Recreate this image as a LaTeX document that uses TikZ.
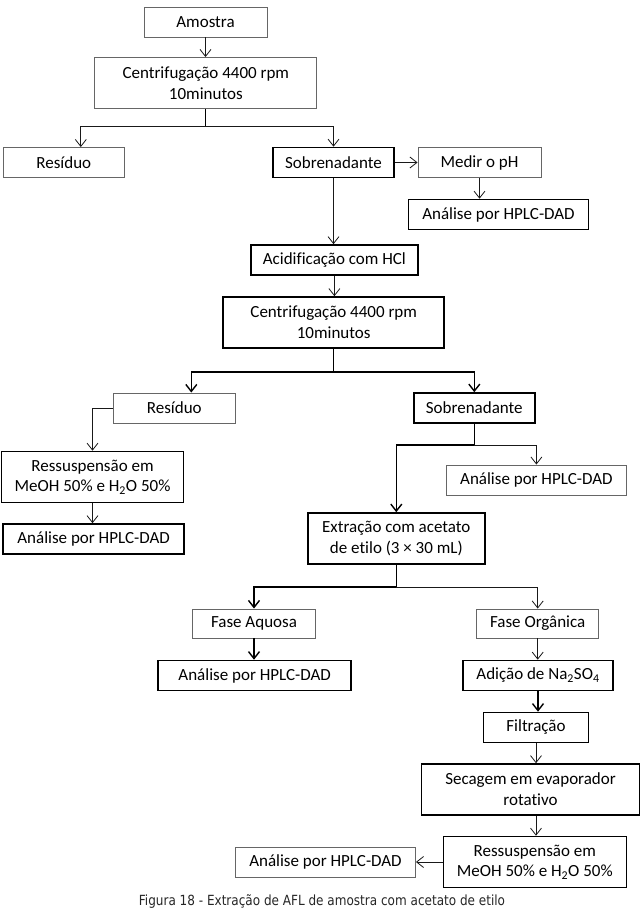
\documentclass[tikz,border=0pt]{standalone}
\usepackage{fontspec}
\setmainfont[Ligatures=NoCommon]{Carlito}
\newfontfamily\legendafont[FakeStretch=0.86]{DejaVu Sans}
\usetikzlibrary{arrows.meta}

\begin{document}
\begin{tikzpicture}[
                x=1pt, y=-1pt,                % 1 unidade = 1 pixel da figura
                every node/.style={
                    font=\fontsize{17}{20.7}\selectfont,
                    align=center,
                    inner sep=2pt
                },
                caixa/.style={draw=black!60, line width=0.9pt, minimum height=30pt},
                caixaforte/.style={draw=black, line width=1.6pt, minimum height=30pt},
                alta/.style={minimum height=51pt},
                >={Straight Barb[length=7pt,width=11pt]},
                arrow/.style={->, line width=0.8pt, black!90},
                barra/.style={line width=1.4pt, black}
            ]
                \useasboundingbox (0,0) rectangle (642,911);

                % caixas
                \node[caixa, minimum width=123pt] (amostra) at (205.5,22) {Amostra};
                \node[caixa, alta, minimum width=222pt] (cent1) at (205.8,83) {Centrifugação 4400 rpm\\10minutos};
                \node[caixa, minimum width=121pt] (res1) at (63.8,162.5) {Resíduo};
                \node[caixaforte, minimum width=121pt] (sob1) at (333.5,162.5) {Sobrenadante};
                \node[caixa, minimum width=123pt] (ph) at (479.5,162.5) {Medir o pH};
                \node[caixaforte, minimum width=180pt] (hplc1) at (498.5,214.5) {Análise por HPLC-DAD};
                \node[caixaforte, minimum width=167pt] (acid) at (334.4,260) {Acidificação com HCl};
                \node[caixaforte, alta, minimum width=221pt] (cent2) at (333.7,322.5) {Centrifugação 4400 rpm\\10minutos};
                \node[caixa, minimum width=122pt] (res2) at (174.3,408) {Resíduo};
                \node[caixaforte, minimum width=121pt] (sob2) at (474.3,408) {Sobrenadante};
                \node[caixaforte, alta, minimum width=182pt] (ress1) at (92.5,477) {Ressuspensão em\\MeOH 50\% e H\textsubscript{2}O 50\%};
                \node[caixaforte, minimum width=181pt] (hplc2) at (93.6,539) {Análise por HPLC-DAD};
                \node[caixa, minimum width=180pt] (hplc3) at (536.4,480) {Análise por HPLC-DAD};
                \node[caixaforte, alta, minimum width=177pt] (extr) at (396.3,538.5) {Extração com acetato\\de etilo (3 × 30 mL)};
                \node[caixa, minimum width=123pt, minimum height=29pt] (aquosa) at (254,623.5) {Fase Aquosa};
                \node[caixa, minimum width=122pt, minimum height=29pt] (organica) at (537.7,623.5) {Fase Orgânica};
                \node[caixaforte, minimum width=193pt] (hplc4) at (254.7,675.5) {Análise por HPLC-DAD};
                \node[caixaforte, minimum width=150pt] (adicao) at (538,675.5) {Adição de Na\textsubscript{2}SO\textsubscript{4}};
                \node[caixaforte, minimum width=105pt] (filtr) at (536,727.5) {Filtração};
                \node[caixaforte, alta, minimum width=218pt] (secagem) at (530.5,789.5) {Secagem em evaporador\\rotativo};
                \node[caixaforte, alta, minimum width=183pt] (ress2) at (534.8,862) {Ressuspensão em\\MeOH 50\% e H\textsubscript{2}O 50\%};
                \node[caixa, minimum width=180pt] (hplc5) at (325.5,862) {Análise por HPLC-DAD};

                % legenda
                \node[font=\legendafont\fontsize{14}{16}\selectfont, text=black!85] (legenda) at (322,902)
                    {Figura 18 - Extração de AFL de amostra com acetato de etilo};

                % pontos de ramificação
                \coordinate (b1) at (cent1.south |- 0,126);
                \coordinate (b2) at (cent2.south |- 0,372);
                \coordinate (b3) at (sob2.south |- 0,445);
                \coordinate (b4) at (extr.south |- 0,587);

                % ligações
                \draw[arrow] (amostra.south) -- (amostra.south |- cent1.north);
                \draw[line width=0.8pt] (cent1.south) -- (b1);
                \draw[arrow] (b1) -| ([xshift=17pt]res1.north);
                \draw[arrow] (b1) -| (sob1.north);
                \draw[arrow] (sob1) -- (ph);
                \draw[arrow] (ph.south) -- (ph.south |- hplc1.north);
                \draw[arrow] (sob1.south) -- (sob1.south |- acid.north);
                \draw[arrow] (acid.south) -- (acid.south |- cent2.north);
                \draw[barra] (cent2.south) -- (b2);
                \draw[arrow, barra] (b2) -| ([xshift=17pt]res2.north);
                \draw[arrow, barra] (b2) -| (sob2.north);
                \draw[arrow] (res2.west) -| (ress1.north);
                \draw[arrow] (ress1.south) -- (ress1.south |- hplc2.north);
                \draw[line width=0.8pt] (sob2.south) -- (b3);
                \draw[arrow] (b3) -| (hplc3.north);
                \draw[arrow, barra] (b3) -| (extr.north);
                \draw[barra] (extr.south) -- (b4);
                \draw[arrow, barra] (b4) -| (aquosa.north);
                \draw[arrow] (b4) -| (organica.north);
                \draw[arrow, barra] (aquosa.south) -- (aquosa.south |- hplc4.north);
                \draw[arrow] (organica.south) -- (organica.south |- adicao.north);
                \draw[arrow, barra] (adicao.south) -- (adicao.south |- filtr.north);
                \draw[arrow] (filtr.south) -- (filtr.south |- secagem.north);
                \draw[arrow] (secagem.south -| filtr) -- (filtr |- ress2.north);
                \draw[arrow] (ress2) -- (hplc5);
            \end{tikzpicture}
\end{document}
